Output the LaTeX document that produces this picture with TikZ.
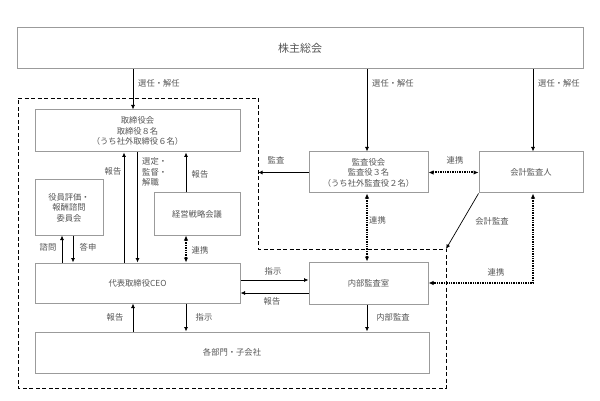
\documentclass[tikz,border=0pt]{standalone}
\usepackage{fontspec}
\newfontfamily\jpfont{Noto Sans CJK JP}
\usepackage{tikz}
\usetikzlibrary{calc,positioning,arrows.meta}
\usepackage{xcolor}
\definecolor{boxgray}{RGB}{155,155,155}
\definecolor{txtgray}{RGB}{85,85,85}

\begin{document}
\begin{tikzpicture}[x=1pt, y=-1pt, font=\jpfont\fontsize{8.3}{10.5}\selectfont,
  box/.style={draw=boxgray, line width=1pt, text=txtgray, align=center, inner sep=0pt},
  arr/.style={-{Latex[length=4.5pt,width=4pt]}, line width=0.8pt},
  link/.style={{Latex[length=5pt,width=4.5pt]}-{Latex[length=5pt,width=4.5pt]},
    line width=2pt, dash pattern=on 1.4pt off 1pt},
  lbl/.style={text=txtgray, inner sep=1pt}]
  \useasboundingbox (0,0) rectangle (600,401);

  % Frame (board side)
  \coordinate (F1) at (18,98);
  \coordinate (F2) at (258,98);
  \coordinate (F3) at (258,249);
  \coordinate (F4) at (446,249);
  \coordinate (F5) at (446,388);
  \coordinate (F6) at (18,388);
  \draw[line width=0.8pt, dash pattern=on 4pt off 2.5pt] (F1) -- (F2) -- (F3) -- (F4) -- (F5) -- (F6) -- cycle;

  % Boxes
  \node[box, minimum width=566pt, minimum height=41pt, font=\jpfont\fontsize{11}{13}\selectfont]
    (GM) at (300,48.5) {株主総会};
  \node[box, minimum width=205pt, minimum height=42pt] (BD) at (137.5,131)
    {取締役会\\取締役８名\\（うち社外取締役６名）};
  \node[box, minimum width=68pt, minimum height=55pt] (CM) at (69,207.5)
    {役員評価・\\報酬諮問\\委員会};
  \node[box, minimum width=86pt, minimum height=42pt] (SM) at (197,214) {経営戦略会議};
  \node[box, minimum width=205pt, minimum height=40pt] (CEO) at (137.5,283) {代表取締役CEO};
  \node[box, minimum width=394pt, minimum height=41pt] (DP) at (232,352.5) {各部門・子会社};
  \node[box, minimum width=119pt, minimum height=41pt] (AB) at (368.5,172.5)
    {監査役会\\監査役３名\\（うち社外監査役２名）};
  \node[box, minimum width=104pt, minimum height=41pt] (AA) at (531,172.5) {会計監査人};
  \node[box, minimum width=119pt, minimum height=42pt] (IA) at (368.5,283) {内部監査室};

  % Shareholders
  \draw[arr] ([xshift=-4.5pt]BD.north |- GM.south) -- ([xshift=-4.5pt]BD.north);
  \draw[arr] ([xshift=-1.5pt]AB.north |- GM.south) -- ([xshift=-1.5pt]AB.north);
  \draw[arr] ([xshift=2pt]AA.north |- GM.south) -- ([xshift=2pt]AA.north);
  \foreach \x in {137,371,537}
    \node[lbl, anchor=west] at (\x,83.5) {選任・解任};

  % Board and CEO
  \draw[arr] ([xshift=-13.5pt]BD.south |- CEO.north) -- ([xshift=-13.5pt]BD.south);
  \draw[arr] (BD.south) -- (CEO.north);
  \draw[arr] ([xshift=-11pt]SM.north) -- ([xshift=-11pt]SM.north |- BD.south);
  \draw[link] ([xshift=-11pt]SM.south) -- ([xshift=-11pt]SM.south |- CEO.north);
  \draw[arr] ([xshift=-7pt]CM.south |- CEO.north) -- ([xshift=-7pt]CM.south);
  \draw[arr] ([xshift=4pt]CM.south) -- ([xshift=4pt]CM.south |- CEO.north);
  \node[lbl] at (113,171) {報告};
  \node[lbl, anchor=north west, align=left] at (141,156.5) {選定・\\監督・\\解職};
  \node[lbl] at (200,174) {報告};
  \node[lbl] at (200,250) {連携};
  \node[lbl] at (48,247) {諮問};
  \node[lbl] at (88,247) {答申};

  % CEO and departments
  \draw[arr] ([xshift=-4.5pt]CEO.south |- DP.north) -- ([xshift=-4.5pt]CEO.south);
  \draw[arr] ([xshift=48.5pt]CEO.south) -- ([xshift=48.5pt]CEO.south |- DP.north);
  \node[lbl] at (115,317) {報告};
  \node[lbl] at (204,317) {指示};

  % CEO and internal audit
  \draw[arr] ([yshift=3pt]CEO.east) -- ([yshift=3pt]CEO.east -| IA.west);
  \draw[arr] ([yshift=-10pt]CEO.east -| IA.west) -- ([yshift=-10pt]CEO.east);
  \node[lbl] at (273,271.5) {指示};
  \node[lbl] at (272,301) {報告};
  \draw[arr] ([xshift=-1.5pt]IA.south) -- ([xshift=-1.5pt]IA.south |- DP.north);
  \node[lbl] at (393,317) {内部監査};

  % Auditors
  \draw[arr] (AB.west) -- (AB.west -| F2);
  \node[lbl] at (276,160) {監査};
  \draw[link] (AB.east) -- (AA.west);
  \node[lbl] at (455,160) {連携};
  \draw[link] ([xshift=-1.5pt]AB.south) -- ([xshift=-1.5pt]IA.north);
  \node[lbl, anchor=west] at (368,220) {連携};
  \draw[arr, line width=0.7pt] (AA.south west) -- (F4);
  \node[lbl] at (492,221.5) {会計監査};
  \draw[link] ([xshift=2pt]AA.south) |- (IA.east);
  \node[lbl] at (496,272) {連携};
\end{tikzpicture}
\end{document}
